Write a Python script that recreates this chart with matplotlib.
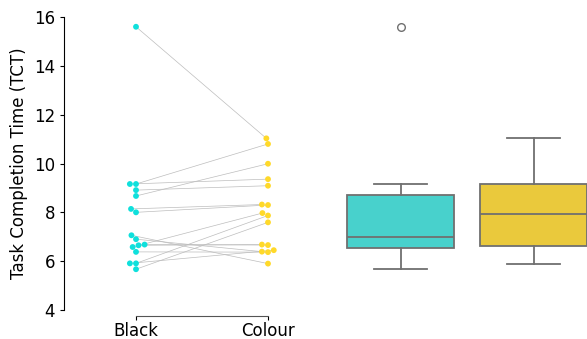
import numpy as np
import pandas as pd
import matplotlib
matplotlib.use("Agg")
import matplotlib.pyplot as plt
import seaborn as sns

conditions = ["Black", "Colour"]
# paired task completion times, one participant per position
black = [15.6, 9.16, 9.16, 8.91, 8.67, 8.14, 8.00, 7.06,
         6.90, 6.65, 6.58, 6.68, 6.38, 5.91, 5.91, 5.67]
colour = [11.03, 10.8, 9.36, 9.09, 9.99, 8.32, 8.30, 5.90,
          6.39, 6.68, 7.97, 6.66, 6.37, 7.87, 6.45, 7.59]
yticks = [4, 6, 8, 10, 12, 14, 16]

point_colours = ["#0fe0dc", "#ffd92a"]
box_colours = ["#48d1cc", "#eac93c"]

df = pd.DataFrame({
    "cond": ["Black"] * len(black) + ["Colour"] * len(colour),
    "tct": black + colour,
})

plt.rcParams["font.size"] = 12
fig = plt.figure(figsize=(5.87, 3.39), dpi=100)
ax = fig.add_axes([70 / 587, 29 / 339, 264 / 587, 293 / 339])
ax2 = fig.add_axes([334 / 587, 29 / 339, 266 / 587, 293 / 339], sharey=ax)

sns.swarmplot(data=df, x="cond", y="tct", hue="cond", palette=point_colours,
              size=4.2, ax=ax, legend=False, zorder=3)
ax.set_xlim(-0.5, 1.5)
ax.set_ylim(4, 16)
fig.canvas.draw()

# connect each participant's two points
p0 = ax.collections[0].get_offsets()
p1 = ax.collections[1].get_offsets()
for a, b in zip(p0, p1):
    ax.plot([a[0], b[0]], [a[1], b[1]], color="#bdbdbd", lw=0.5, zorder=1)

ax.set_yticks(yticks)
ax.set_xlabel("")
ax.set_ylabel("Task Completion Time (TCT)")
for side in ["top", "right"]:
    ax.spines[side].set_visible(False)
ax.spines["left"].set_position(("outward", 4.3))
ax.spines["bottom"].set_position(("outward", 4.3))
ax.spines["left"].set_bounds(4, 16)
ax.spines["bottom"].set_bounds(0, 1)
ax.spines["bottom"].set_color("#555555")
ax.tick_params(length=3, width=0.8)
ax.tick_params(axis="x", pad=1.5)

bp = ax2.boxplot([black, colour], positions=[0, 1], widths=0.8,
                 patch_artist=True,
                 boxprops=dict(edgecolor="#707070", lw=1.3),
                 medianprops=dict(color="#707070", lw=1.3),
                 whiskerprops=dict(color="#707070", lw=1.3),
                 capprops=dict(color="#707070", lw=1.3),
                 flierprops=dict(marker="o", markerfacecolor="none",
                                 markeredgecolor="#707070", markersize=5.5))
for patch, c in zip(bp["boxes"], box_colours):
    patch.set_facecolor(c)
ax2.set_xlim(-0.5, 1.5)
ax2.axis("off")

fig.savefig("out.png", dpi=100)
